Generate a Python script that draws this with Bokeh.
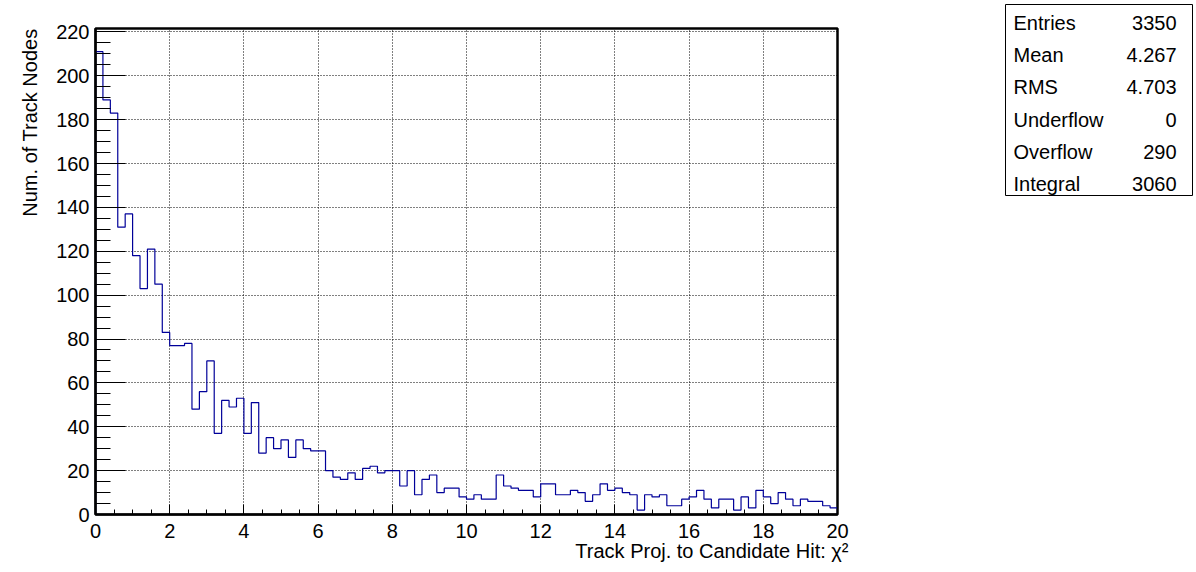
import numpy as np
from bokeh.plotting import figure
from bokeh.models import Range1d, SingleIntervalTicker, Title, ColumnDataSource
from bokeh.layouts import row, column
from bokeh.embed import file_html
from bokeh.resources import INLINE

# ---------------- data ----------------
x_low = 0.0
x_high = 20.0
counts = [211, 189, 183, 131, 137, 118, 103, 121, 105, 83,
          77, 77, 78, 48, 56, 70, 37, 52, 49, 53,
          37, 51, 28, 35, 30, 34, 26, 34, 30, 29,
          29, 20, 17, 16, 19, 16, 21, 22, 19, 20,
          20, 13, 20, 9, 16, 18, 10, 12, 12, 8,
          7, 9, 7, 7, 18, 13, 12, 11, 11, 8,
          14, 14, 9, 9, 11, 10, 6, 9, 14, 11,
          12, 10, 9, 2, 9, 8, 9, 4, 4, 7,
          8, 11, 7, 3, 7, 7, 2, 8, 3, 11,
          8, 5, 10, 7, 4, 7, 6, 6, 4, 3]
stat_names = ["Entries", "Mean", "RMS", "Underflow", "Overflow", "Integral"]
stat_values = ["3350", "4.267", "4.703", "0", "290", "3060"]
x_title = "Track Proj. to Candidate Hit: \u03c7\u00b2"
y_title = "Num. of Track Nodes"

FONT = "Liberation Sans"
FS = "20px"

# ---------------- histogram path ----------------
edges = np.linspace(x_low, x_high, len(counts) + 1)
xs = [edges[0]]
ys = [0]
for i, c in enumerate(counts):
    xs += [edges[i], edges[i + 1]]
    ys += [c, c]
xs.append(edges[-1])
ys.append(0)

ymax = max(counts) * 1.05

FL, FT, FW, FH = 95, 28, 742, 486
p = figure(frame_width=FW, frame_height=FH,
           x_range=Range1d(x_low, x_high), y_range=Range1d(0, ymax),
           output_backend="svg", toolbar_location=None,
           min_border_left=FL, min_border_right=1005 - FL - FW,
           min_border_top=FT, min_border_bottom=56,
           background_fill_color="white", border_fill_color="white")

p.line(xs, ys, line_color="#000099", line_width=1.2)

p.xaxis.ticker = SingleIntervalTicker(interval=2, num_minor_ticks=4)
p.yaxis.ticker = SingleIntervalTicker(interval=20, num_minor_ticks=4)

for ax in (p.xaxis, p.yaxis):
    ax.axis_line_color = "black"
    ax.axis_line_width = 2
    ax.major_tick_line_color = "black"
    ax.minor_tick_line_color = "black"
    ax.major_tick_line_width = 1
    ax.minor_tick_line_width = 1
    ax.major_tick_out = 0
    ax.minor_tick_out = 0
    ax.major_label_text_font = FONT
    ax.major_label_text_font_size = FS
    ax.major_label_text_color = "black"

p.xaxis.major_tick_in = 10
p.xaxis.minor_tick_in = 5
p.xaxis.major_label_standoff = 9
p.yaxis.major_tick_in = 30
p.yaxis.minor_tick_in = 15
p.yaxis.major_label_standoff = 6

p.xgrid.grid_line_color = "black"
p.ygrid.grid_line_color = "black"
p.xgrid.grid_line_dash = "1 2"
p.ygrid.grid_line_dash = "1 2"
p.xgrid.grid_line_width = 1
p.ygrid.grid_line_width = 1

p.outline_line_color = "black"
p.outline_line_width = 2.5
p.outline_line_alpha = 1

p.add_layout(Title(text=x_title, align="right", text_font=FONT,
                   text_font_size=FS, text_font_style="normal",
                   text_color="black", standoff=-6, offset=-11), "below")
p.add_layout(Title(text=y_title, align="right", text_font=FONT,
                   text_font_size=FS, text_font_style="normal",
                   text_color="black", standoff=26), "left")

# ---------------- stats box (separate small figure) ----------------
BX, BY, BW, BH = 1005, 4, 188, 192
s = figure(width=BW, height=BY + BH, x_range=Range1d(0, BW),
           y_range=Range1d(BH, 0), x_axis_type=None, y_axis_type=None,
           output_backend="svg", toolbar_location=None,
           min_border_left=0, min_border_right=0,
           min_border_top=BY, min_border_bottom=0)
s.grid.visible = False
s.outline_line_color = "black"
s.outline_line_width = 1
row_y = [22.5 - BY + 32.2 * i for i in range(len(stat_names))]
src = ColumnDataSource(dict(y=row_y, name=stat_names, val=stat_values,
                            xl=[1013 - BX] * len(stat_names),
                            xr=[1176 - BX] * len(stat_names)))
s.text(x="xl", y="y", text="name", source=src, text_font={"value": FONT},
       text_font_size=FS, text_baseline="middle", text_align="left",
       text_color="black")
s.text(x="xr", y="y", text="val", source=src, text_font={"value": FONT},
       text_font_size=FS, text_baseline="middle", text_align="right",
       text_color="black")

layout = row(p, column(s))
open("out.html", "w").write(file_html(layout, INLINE))
